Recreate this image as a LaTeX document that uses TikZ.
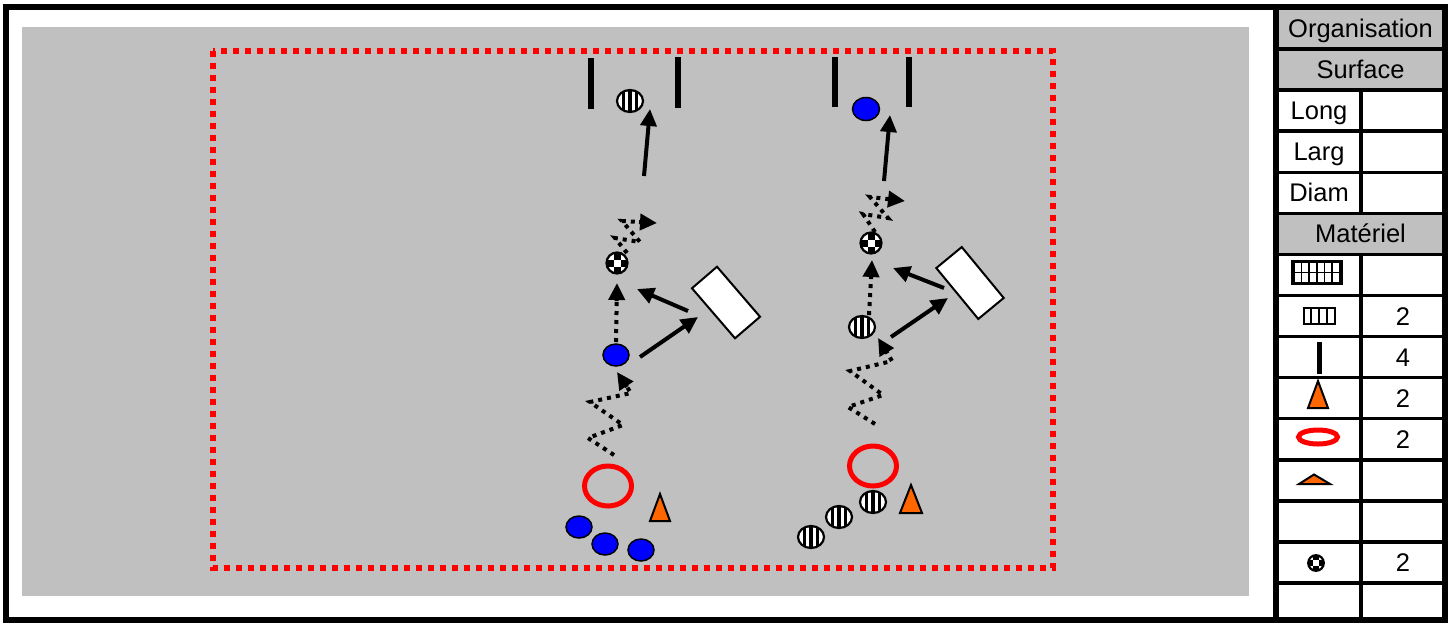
\documentclass[tikz,border=0pt]{standalone}
\usepackage{fontspec}
\setmainfont{Liberation Sans}
\usetikzlibrary{arrows.meta,shapes.geometric,calc}
\definecolor{fieldgray}{RGB}{192,192,192}
\definecolor{coneorange}{RGB}{255,102,0}
\definecolor{pblue}{RGB}{0,0,255}
\tikzset{
  bluep/.style={ellipse, draw=black, line width=1.5pt, fill=pblue, minimum width=26pt, minimum height=22pt, inner sep=0pt},
  stripep/.style={ellipse, draw=black, line width=2.2pt, fill=white, minimum width=26pt, minimum height=22pt, inner sep=0pt,
    path picture={
      \foreach \dx in {-6.3,0,6.3}{
        \fill[black] ([xshift=\dx pt-1.7pt,yshift=-15pt]path picture bounding box.center) rectangle ([xshift=\dx pt+1.7pt,yshift=15pt]path picture bounding box.center);
      }}},
  ballchk/.style={circle, draw=black, line width=2.2pt, fill=white, minimum size=3*#1, inner sep=0pt,
    path picture={
      \fill[black] ([xshift=-0.5*#1,yshift=0.5*#1]path picture bounding box.center) rectangle ([xshift=0.5*#1,yshift=1.6*#1]path picture bounding box.center);
      \fill[black] ([xshift=-0.5*#1,yshift=-0.5*#1]path picture bounding box.center) rectangle ([xshift=0.5*#1,yshift=-1.6*#1]path picture bounding box.center);
      \fill[black] ([xshift=-1.6*#1,yshift=-0.5*#1]path picture bounding box.center) rectangle ([xshift=-0.5*#1,yshift=0.5*#1]path picture bounding box.center);
      \fill[black] ([xshift=0.5*#1,yshift=-0.5*#1]path picture bounding box.center) rectangle ([xshift=1.6*#1,yshift=0.5*#1]path picture bounding box.center);
    }},
  hoop/.style={ellipse, draw=red, line width=5pt, minimum width=47pt, minimum height=40pt, inner sep=0pt},
  board/.style={rectangle, draw=black, line width=2pt, fill=white, minimum width=66pt, minimum height=33pt, inner sep=0pt},
  post/.style={line width=6pt, black},
  cone/.style={draw=black, line width=2pt, fill=coneorange, line join=miter},
  arr/.style={line width=4pt, -{Triangle[length=17pt,width=16pt]}},
  dotline/.style={line width=4pt, dash pattern=on 4pt off 5pt},
  reddot/.style={draw=red, line width=6pt, dash pattern=on 6pt off 6pt},
  tabtxt/.style={anchor=base, inner sep=0pt, font=\fontsize{25.5}{30}\selectfont},
  tabline/.style={line width=3.5pt, black},
}
\begin{document}
\begin{tikzpicture}[x=1pt,y=-1pt]
\useasboundingbox (0,0) rectangle (1450,622);
\fill[white] (0,0) rectangle (1450,622);
% field
\fill[fieldgray] (22,27) rectangle (1249,596);
\draw[reddot] (212.5,50.5) rectangle (1052.5,567.5);

% ===== table =====
\fill[fieldgray] (1276,8) rectangle (1444.5,90.1);
\fill[fieldgray] (1276,213.35) rectangle (1444.5,254.4);
\foreach \k in {1,...,14}{
  \draw[tabline] (1276,{8+41.07*\k}) -- (1444.5,{8+41.07*\k});
}
\draw[tabline] (1361,90.1) -- (1361,213.35);
\draw[tabline] (1361,254.4) -- (1361,620);
% frame
\draw[line width=6pt] (6,7) rectangle (1444.5,619.5);
\draw[line width=6pt] (1276,7) -- (1276,619.5);

\node[tabtxt] (tOrg) at (1360.5,37.5) {Organisation};
\node[tabtxt] (tSurf) at (1360.5,78.6) {Surface};
\node[tabtxt] (tLong) at (1319,119.6) {Long};
\node[tabtxt] (tLarg) at (1319,160.7) {Larg};
\node[tabtxt] (tDiam) at (1319,201.8) {Diam};
\node[tabtxt] (tMat) at (1360.5,242.9) {Mat\'eriel};
\node[tabtxt] (n7) at (1403,325.0) {2};
\node[tabtxt] (n8) at (1403,366.1) {4};
\node[tabtxt] (n9) at (1403,407.1) {2};
\node[tabtxt] (n10) at (1403,448.2) {2};
\node[tabtxt] (n13) at (1403,571.4) {2};

% table icons
\fill[black] (1291,260) rectangle (1343,285);
\foreach \c in {0,...,5}{
  \foreach \r in {0,1}{
    \fill[white] ({1294.5+7.7*\c},{263+10*\r}) rectangle ({1294.5+7.7*\c+6},{263+10*\r+8.5});
  }
}
\draw[black, line width=2pt, fill=white] (1304,307.5) rectangle (1335,323.5);
\foreach \xx in {1310.5,1318.5,1326.5}{ \draw[black, line width=2pt] (\xx,307.5) -- (\xx,323.5); }
\draw[post, line width=5pt] (1319,342) -- (1319,374);
\draw[cone] (1318,381) -- (1328,408) -- (1308,408) -- cycle;
\draw[red, line width=5pt] (1318,437) ellipse[x radius=19.5, y radius=7];
\draw[cone] (1314,474.5) -- (1330,484) -- (1299,484) -- cycle;
\node[ballchk=5.2pt] (iball) at (1316,563) {};

% ===== left group =====
\draw[post] (591,58) -- (591,109);
\draw[post] (678,57) -- (678,108);
\node[stripep] (gL) at (630,101) {};
\node[ballchk=7pt] (cL) at (617,263) {};
\node[bluep] (pL) at (616,355) {};
\node[board, rotate=-49.3] (rL) at (726,302.5) {};
\node[hoop] (hL) at (608,486) {};
\node[bluep] (bL1) at (579,527) {};
\node[bluep] (bL2) at (605,544) {};
\node[bluep] (bL3) at (641,550) {};
\draw[cone] (660,494) -- (670,521) -- (650,521) -- cycle;

\coordinate (aL1s) at (644,176);  \coordinate (aL1e) at (650,109);
\coordinate (aL2s) at (688,311);  \coordinate (aL2e) at (637,289);
\coordinate (aL3s) at (640,357);  \coordinate (aL3e) at (698,317);
\draw[arr] (aL1s) -- (aL1e);
\draw[arr] (aL2s) -- (aL2e);
\draw[arr] (aL3s) -- (aL3e);
% dotted run to checkered ball
\coordinate (dL1s) at (616,342); \coordinate (dL1e) at (617,283);
\draw[dotline] (dL1s) -- ($(dL1e)!12pt!(dL1s)$);
\draw[arr] ($(dL1e)!18pt!(dL1s)$) -- (dL1e);
% dribble squiggle
\coordinate (sL) at (627,253); \coordinate (sLp) at (622,221); \coordinate (sLe) at (657,223);
\draw[dotline] (sL) -- (615,238) -- (640,242) -- (sLp) -- ($(sLe)!12pt!(sLp)$);
\draw[arr] ($(sLe)!18pt!(sLp)$) -- (sLe);
% zigzag
\coordinate (zL) at (614,455); \coordinate (zLp) at (631,393); \coordinate (zLe) at (617,372);
\draw[dotline] (zL) -- (588,438) -- (623,425) -- (590,402) -- (zLp) -- ($(zLe)!12pt!(zLp)$);
\draw[arr] ($(zLe)!18pt!(zLp)$) -- (zLe);

% ===== right group =====
\draw[post] (835,57) -- (835,107);
\draw[post] (909,57) -- (909,107);
\node[bluep, minimum width=27pt, minimum height=23pt] (gR) at (866,109) {};
\node[ballchk=7pt] (cR) at (871,243) {};
\node[stripep] (pR) at (862,327) {};
\node[board, rotate=-50.5] (rR) at (970,283) {};
\node[hoop] (hR) at (873,466) {};
\node[stripep] (sR1) at (873,502) {};
\node[stripep] (sR2) at (839,517) {};
\node[stripep] (sR3) at (811,537) {};
\draw[cone] (911,485) -- (922,513) -- (900,513) -- cycle;

\coordinate (aR1s) at (884,181);  \coordinate (aR1e) at (890,115);
\coordinate (aR2s) at (944,288);  \coordinate (aR2e) at (893,268);
\coordinate (aR3s) at (891,337);  \coordinate (aR3e) at (948,298);
\draw[arr] (aR1s) -- (aR1e);
\draw[arr] (aR2s) -- (aR2e);
\draw[arr] (aR3s) -- (aR3e);
\coordinate (dR1s) at (869,315); \coordinate (dR1e) at (872,260);
\draw[dotline] (dR1s) -- ($(dR1e)!12pt!(dR1s)$);
\draw[arr] ($(dR1e)!18pt!(dR1s)$) -- (dR1e);
\coordinate (sR) at (875,232); \coordinate (sRp) at (870,197); \coordinate (sRe) at (905,201);
\draw[dotline] (sR) -- (863,214) -- (888,218) -- (sRp) -- ($(sRe)!12pt!(sRp)$);
\draw[arr] ($(sRe)!18pt!(sRp)$) -- (sRe);
\coordinate (zR) at (875,424); \coordinate (zRp) at (892,361); \coordinate (zRe) at (878,338);
\draw[dotline] (zR) -- (848,407) -- (883,395) -- (850,371) -- (zRp) -- ($(zRe)!12pt!(zRp)$);
\draw[arr] ($(zRe)!18pt!(zRp)$) -- (zRe);
\end{tikzpicture}
\end{document}
